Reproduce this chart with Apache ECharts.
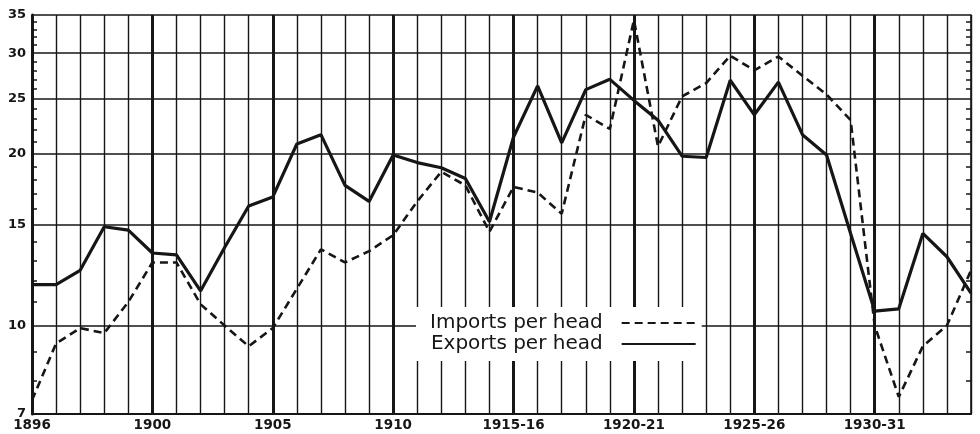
<!DOCTYPE html>
<html>
<head>
<meta charset="utf-8">
<script src="https://cdn.jsdelivr.net/npm/echarts@6/dist/echarts.min.js"></script>
<style>html,body{margin:0;padding:0;background:#fff}#c{width:980px;height:434px}</style>
</head>
<body>
<div id="c"></div>
<script>
const years = ['1895','1896','1897','1898','1899','1900','1901','1902','1903','1904',
  '1905','1906','1907','1908','1909','1910','1911','1912','1913','1914',
  '1915','1916','1917','1918','1919','1920','1921','1922','1923','1924',
  '1925','1926','1927','1928','1929','1930','1931','1932','1933','1934'];
const yearLabels = {'1895':'1896','1900':'1900','1905':'1905','1910':'1910',
  '1915':'1915-16','1920':'1920-21','1925':'1925-26','1930':'1930-31'};
const importsPerHead = [7.4,9.3,9.9,9.7,11.0,12.9,12.9,10.9,10.0,9.2,
  9.9,11.6,13.6,12.9,13.5,14.4,16.5,18.6,17.6,14.6,
  17.5,17.1,15.7,23.4,22.1,34.3,20.6,25.2,26.6,29.7,
  28.0,29.6,27.4,25.4,22.9,10.0,7.5,9.2,10.0,12.5];
const exportsPerHead = [11.8,11.8,12.5,14.9,14.7,13.4,13.3,11.5,13.7,16.2,
  16.8,20.8,21.6,17.6,16.5,19.9,19.3,18.9,18.1,15.2,
  21.4,26.3,20.9,25.9,27.0,24.8,22.9,19.8,19.7,26.9,
  23.4,26.7,21.6,19.9,14.5,10.6,10.7,14.5,13.2,11.4];
const yGridValues = [7,10,15,20,25,30,35];
const yMinorTicks = [8,9,11,12,13,14,16,17,18,19,21,22,23,24,26,27,28,29,31,32,33,34];

const ink = '#161616';
const chart = echarts.init(document.getElementById('c'), null, {renderer:'canvas'});
const logAxisBase = {type:'log', logBase:10, min:7, max:35};
chart.setOption({
  animation:false,
  backgroundColor:'#fff',
  grid:{left:32, right:9, top:15, bottom:20},
  legend:{
    orient:'vertical', left:416, top:307, align:'right',
    itemWidth:74, itemHeight:10, itemGap:1,
    backgroundColor:'#fff', padding:[6,5,7,14],
    itemStyle:{opacity:0},
    textStyle:{fontFamily:'DejaVu Sans', fontSize:20, color:ink, padding:[0,14,0,0]},
    data:['Imports per head','Exports per head']
  },
  xAxis:[{
    type:'category', data:years, boundaryGap:false,
    axisLine:{lineStyle:{color:ink, width:2}},
    axisTick:{show:false},
    axisLabel:{interval:(i,v)=>yearLabels[v]!==undefined, formatter:v=>yearLabels[v]||'',
      fontFamily:'DejaVu Sans', fontWeight:'bold', fontSize:13.5, color:ink, margin:4},
    splitLine:{show:true, interval:0, lineStyle:{color:ink, width:1.4}}
  },{
    type:'category', data:years, boundaryGap:false, position:'top',
    axisLine:{show:false}, axisTick:{show:false}, axisLabel:{show:false},
    splitLine:{show:true, interval:(i,v)=>yearLabels[v]!==undefined, lineStyle:{color:ink, width:3}}
  }],
  yAxis:[
    Object.assign({}, logAxisBase, {
      position:'left',
      axisLine:{show:true, lineStyle:{color:ink, width:3}},
      axisTick:{show:false, customValues:yGridValues},
      axisLabel:{customValues:yGridValues,
        formatter:v=>String(Math.round(v)),
        fontFamily:'DejaVu Sans', fontWeight:'bold', fontSize:13, color:ink, margin:6},
      splitLine:{show:true, lineStyle:{color:ink, width:1.6}}
    }),
    Object.assign({}, logAxisBase, {
      position:'left',
      axisLine:{show:false},
      axisTick:{show:true, inside:true, length:5, customValues:yMinorTicks, lineStyle:{color:ink, width:1.5}},
      axisLabel:{show:false},
      splitLine:{show:false}
    }),
    Object.assign({}, logAxisBase, {
      position:'right',
      axisLine:{show:true, lineStyle:{color:ink, width:1.6}},
      axisTick:{show:true, inside:true, length:5, customValues:yMinorTicks, lineStyle:{color:ink, width:1.5}},
      axisLabel:{show:false},
      splitLine:{show:false}
    })
  ],
  series:[{
    name:'Imports per head', type:'line', data:importsPerHead, xAxisIndex:0, yAxisIndex:0,
    symbol:'none', lineStyle:{color:ink, width:2.6, type:[8,5]}, itemStyle:{color:ink}, z:5
  },{
    name:'Exports per head', type:'line', data:exportsPerHead, xAxisIndex:0, yAxisIndex:0,
    symbol:'none', lineStyle:{color:ink, width:3.2}, itemStyle:{color:ink}, z:6
  }]
});
</script>
</body>
</html>
